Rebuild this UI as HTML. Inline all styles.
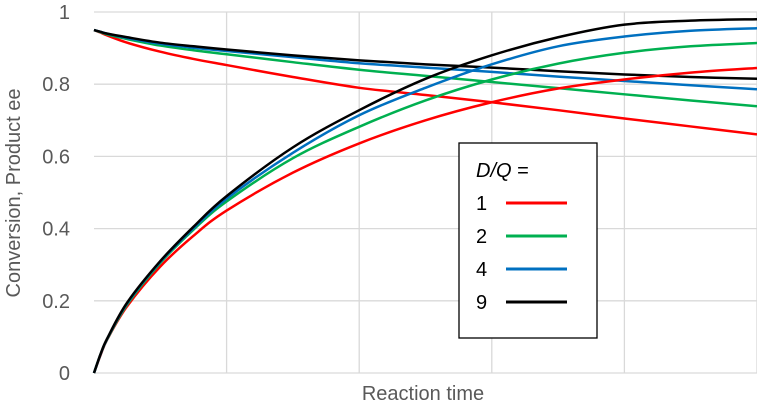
<!DOCTYPE html>
<html><head><meta charset="utf-8"><style>
body{margin:0;background:#fff}
svg text{font-family:"Liberation Sans",sans-serif;fill:#595959}
</style></head><body>
<svg id="c" width="757" height="407"></svg>
<script>
const xs=[0,0.05,0.1,0.25,0.5,0.75,1,1.5,2,2.5,3,3.5,4,4.5,5];
const conv1=[0,0.05,0.093,0.185,0.295,0.38,0.45,0.555,0.636,0.70,0.75,0.788,0.813,0.832,0.845];
const conv2=[0,0.052,0.094,0.19,0.305,0.397,0.475,0.595,0.682,0.755,0.813,0.857,0.887,0.905,0.914];
const conv4=[0,0.052,0.095,0.193,0.308,0.401,0.483,0.61,0.714,0.79,0.855,0.905,0.932,0.948,0.955];
const conv9=[0,0.053,0.096,0.195,0.31,0.405,0.49,0.625,0.728,0.815,0.88,0.93,0.965,0.976,0.98];
const ee1=[0.95,0.943,0.935,0.915,0.89,0.87,0.853,0.82,0.79,0.77,0.75,0.728,0.705,0.683,0.661];
const ee2=[0.95,0.944,0.938,0.925,0.907,0.894,0.883,0.861,0.84,0.823,0.806,0.789,0.772,0.755,0.739];
const ee4=[0.95,0.945,0.94,0.928,0.912,0.901,0.892,0.875,0.858,0.846,0.834,0.821,0.809,0.797,0.786];
const ee9=[0.95,0.945,0.94,0.93,0.915,0.905,0.896,0.88,0.866,0.855,0.846,0.836,0.827,0.82,0.815];
const yTicks=[0,0.2,0.4,0.6,0.8,1];
const yLabels=["0","0.2","0.4","0.6","0.8","1"];
const xGrid=[1,2,3,4,5];
const legendLabels=["1","2","4","9"];
const colors=["#ff0000","#00b050","#0070c0","#000000"];
const NS="http://www.w3.org/2000/svg";
const svg=document.getElementById('c');
const X0=94,X1=757,Y0=373,Y1=12;
const sx=v=>X0+(X1-X0)*v/5, sy=v=>Y0-(Y0-Y1)*v;
function mk(t,a,p){const e=document.createElementNS(NS,t);for(const k in a)e.setAttribute(k,a[k]);(p||svg).appendChild(e);return e;}
yTicks.forEach((v,i)=>{
 const l=mk('line',{x1:X0,x2:X1,y1:sy(v),y2:sy(v),stroke:'#d9d9d9','stroke-width':1.3});
 
 
 const t=mk('text',{x:70,y:sy(v)+7,'text-anchor':'end','font-size':20});
 t.textContent=yLabels[i];
 
 
});
xGrid.forEach(v=>{
 const l=mk('line',{x1:sx(v),x2:sx(v),y1:Y1,y2:Y0,stroke:'#d9d9d9','stroke-width':1.3});
 
 
});
function path(ys){
 const p=xs.map((x,i)=>[sx(x),sy(ys[i])]);
 let d=`M${p[0][0]},${p[0][1]}`;
 for(let i=0;i<p.length-1;i++){
  const a=p[i-1]||p[i],b=p[i],c=p[i+1],e=p[i+2]||c;
  const c1=[b[0]+(c[0]-a[0])/6,b[1]+(c[1]-a[1])/6],c2=[c[0]-(e[0]-b[0])/6,c[1]-(e[1]-b[1])/6];
  d+=` C${c1[0]},${c1[1]} ${c2[0]},${c2[1]} ${c[0]},${c[1]}`;
 }
 return d;
}
const convs=[conv1,conv2,conv4,conv9],ees=[ee1,ee2,ee4,ee9];
for(let i=0;i<4;i++){
 const a=mk('path',{d:path(ees[i]),fill:'none',stroke:colors[i],'stroke-width':2.5});
 
 
}
for(let i=0;i<4;i++){
 const a=mk('path',{d:path(convs[i]),fill:'none',stroke:colors[i],'stroke-width':2.5});
 
 
}
const yt=mk('text',{x:0,y:0,'text-anchor':'middle','font-size':20,transform:'translate(20,193) rotate(-90)'});
yt.textContent='Conversion, Product ee';


const xt=mk('text',{x:423,y:400,'text-anchor':'middle','font-size':20});
xt.textContent='Reaction time';


const g=mk('g',{});


mk('rect',{x:459,y:143,width:138,height:195,fill:'#fff',stroke:'#000','stroke-width':1.3},g);
const h=mk('text',{x:476,y:177,'font-size':20,style:'fill:#000'},g);
h.innerHTML='<tspan font-style="italic">D/Q</tspan> =';


legendLabels.forEach((s,i)=>{
 const y=203+i*33;
 const t=mk('text',{x:476,y:y+7,'font-size':20,style:'fill:#000'},g);
 t.textContent=s;
 
 
 const l=mk('line',{x1:506,x2:567,y1:y,y2:y,stroke:colors[i],'stroke-width':3},g);
 
 
});
</script>
</body></html>
